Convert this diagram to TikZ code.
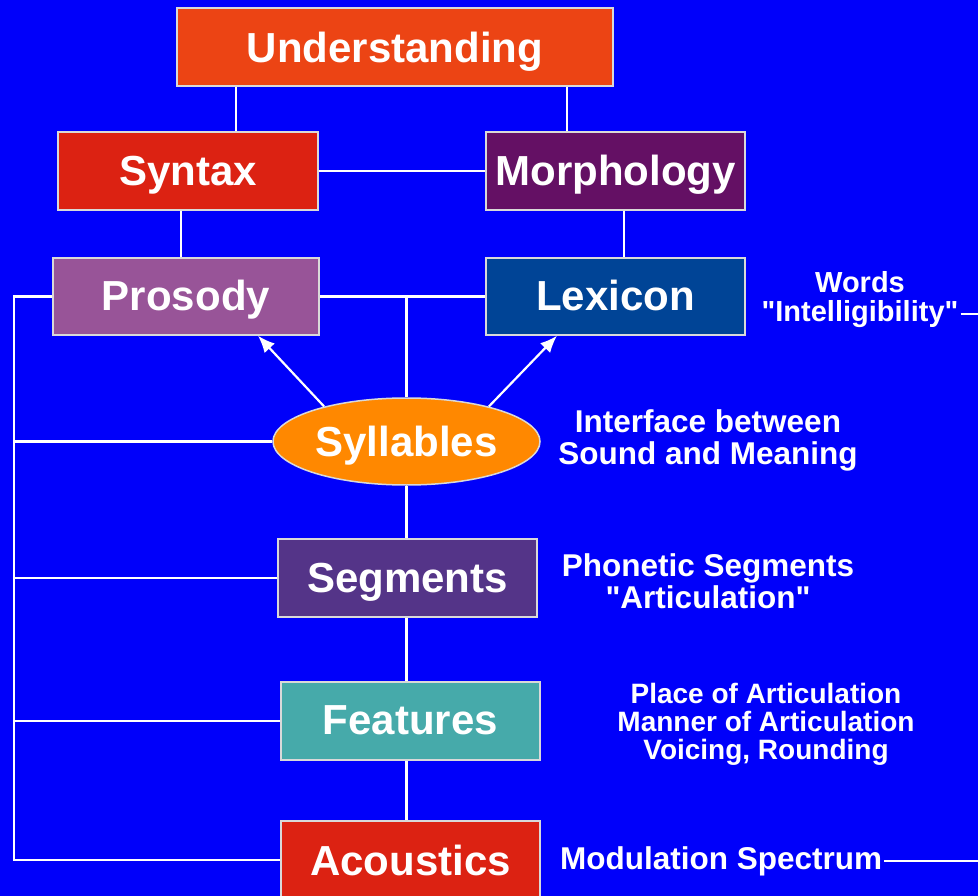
\documentclass[tikz,border=0pt]{standalone}
\usepackage{fontspec}
\setmainfont{Liberation Sans}[Ligatures=TeXOff]
\usepackage{tikz}
\usetikzlibrary{shapes.geometric,arrows.meta}

\definecolor{bgblue}{RGB}{0,0,250}
\definecolor{undcol}{RGB}{236,68,20}
\definecolor{redcol}{RGB}{220,34,18}
\definecolor{morcol}{RGB}{100,16,100}
\definecolor{procol}{RGB}{152,84,152}
\definecolor{lexcol}{RGB}{0,68,150}
\definecolor{sylcol}{RGB}{255,136,0}
\definecolor{segcol}{RGB}{84,52,136}
\definecolor{feacol}{RGB}{70,170,170}

\begin{document}
\begin{tikzpicture}[x=1pt,y=-1pt,
  box/.style={rectangle,draw=white!85!black,line width=1.5pt,minimum width=259pt,minimum height=78pt,text height=29pt,text depth=0pt,text=white,font=\fontsize{42}{44}\selectfont\bfseries},
  note/.style={text=white,align=center,inner sep=2pt,font=\fontsize{31.5}{32}\selectfont\bfseries},
  link/.style={white,line width=2.2pt},
  up/.style={link,-{Latex[length=17pt,width=14pt]}}]
\useasboundingbox (0,0) rectangle (978,896);
\fill[bgblue] (0,0) rectangle (978,896);

\node[box,fill=undcol,minimum width=436pt,text height=31pt] (und) at (395, 47) {Understanding};
\node[box,fill=redcol,minimum width=260pt] (syn) at (188, 171) {Syntax};
\node[box,fill=morcol] (mor) at (615.5, 171) {Morphology};
\node[box,fill=procol,minimum width=266pt,minimum height=77pt] (pro) at (186, 296.5) {Prosody};
\node[box,fill=lexcol,minimum height=77pt] (lex) at (615.5, 296.5) {Lexicon};
\node[box,ellipse,fill=sylcol,minimum width=267pt,minimum height=87pt,inner sep=0pt] (syl) at (406.5, 441.5) {Syllables};
\node[box,fill=segcol] (seg) at (407.5, 578) {Segments};
\node[box,fill=feacol,text height=26pt] (fea) at (410.5, 721) {Features};
\node[box,fill=redcol,text height=31pt] (aco) at (410.5, 860) {Acoustics};

%notes
\node[note,font=\fontsize{29}{32}\selectfont\bfseries] (words) at (860, 282) {Words};
\node[note,font=\fontsize{29}{32}\selectfont\bfseries] (intel) at (860, 314) {"Intelligibility"};
\node[note] (sylnote) at (708, 440) {Interface between\\Sound and Meaning};
\node[note] (segnote) at (708, 581) {Phonetic Segments\\"Articulation"};
\node[note,font=\fontsize{28}{28}\selectfont\bfseries] (feanote) at (766, 724) {Place of Articulation\\Manner of Articulation\\Voicing, Rounding};
\node[note,anchor=west] (modnote) at (558, 861) {Modulation Spectrum};

%top
\draw[link] (und.south -| 236,0) -- (syn.north -| 236,0);
\draw[link] (und.south -| 567,0) -- (mor.north -| 567,0);
\draw[link] (syn.east) -- (mor.west);
\draw[link] (syn.south -| 181,0) -- (pro.north -| 181,0);
\draw[link] (mor.south -| 624,0) -- (lex.north -| 624,0);
\draw[link] (pro.east) -- (lex.west);
\draw[link] (syl.north |- pro.east) -- (syl.north);
\draw[up] (syl.157) -- (pro.south -| 258,0);
\draw[up] (syl.23) -- (lex.south -| 557,0);

%chain
\draw[link] (syl.south) -- (syl.south |- seg.north);
\draw[link] (syl.south |- seg.south) -- (syl.south |- fea.north);
\draw[link] (syl.south |- fea.south) -- (syl.south |- aco.north);

%left bus
\coordinate (bus) at (14, 0);
\draw[link] (pro.west) -- (pro.west -| bus) -- (aco.west -| bus) -- (aco.west);
\draw[link] (syl.west) -- (syl.west -| bus);
\draw[link] (seg.west) -- (seg.west -| bus);
\draw[link] (fea.west) -- (fea.west -| bus);

%right
\coordinate (edge) at (978, 0);
\draw[link] (intel.east) -- (intel.east -| edge);
\draw[link] (modnote.east) -- (modnote.east -| edge);
\end{tikzpicture}
\end{document}
